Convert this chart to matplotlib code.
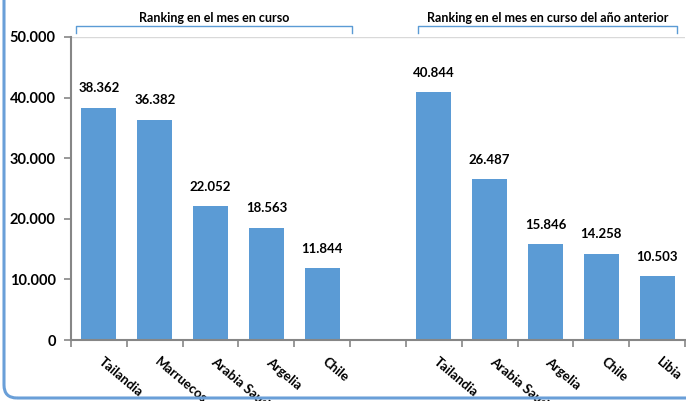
import matplotlib
matplotlib.use('Agg')
import matplotlib.pyplot as plt
from matplotlib.patches import FancyBboxPatch

plt.rcParams['font.family'] = ['Lato', 'DejaVu Sans']
plt.rcParams['font.weight'] = 'bold'

current_countries = ['Tailandia', 'Marruecos', 'Arabia Saudí', 'Argelia', 'Chile']
current_values = [38362, 36382, 22052, 18563, 11844]
previous_countries = ['Tailandia', 'Arabia Saudí', 'Argelia', 'Chile', 'Libia']
previous_values = [40844, 26487, 15846, 14258, 10503]
titles = ['Ranking en el mes en curso', 'Ranking en el mes en curso del año anterior']
yticks = [0, 10000, 20000, 30000, 40000, 50000]

bar_color = '#5B9BD5'
axis_gray = '#868686'


def fmt(v):
    return f'{v:,}'.replace(',', '.')


fig = plt.figure(figsize=(6.86, 4.01), dpi=100)
ax = fig.add_axes([71 / 686, 1 - 340 / 401, 614 / 686, 303 / 401])

# 11 slots: 5 bars, one empty slot, 5 bars
x1 = list(range(len(current_values)))
x2 = [i + len(current_values) + 1 for i in range(len(previous_values))]
ax.bar(x1, current_values, width=0.63, color=bar_color, zorder=2)
ax.bar(x2, previous_values, width=0.63, color=bar_color, zorder=2)

for x, v in zip(x1 + x2, current_values + previous_values):
    ax.text(x, v + 2200, fmt(v), ha='center', va='bottom', fontsize=9.5,
            fontweight='bold')

ax.set_xlim(-0.5, 10.5)
ax.set_ylim(0, 50000)
ax.set_yticks(yticks)
ax.set_yticklabels([fmt(v) for v in yticks], fontsize=10.5, fontweight='bold')
ax.set_xticks([i - 0.5 for i in range(12)])
ax.set_xticklabels([])
ax.tick_params(axis='both', direction='out', color=axis_gray, width=1.2, length=5)
ax.tick_params(axis='y', pad=6)

# rotated category labels (the reference lets the long ones run off the bottom)
for x, name in zip(x1 + x2, current_countries + previous_countries):
    ax.text(x + 0.1, -2600, name, rotation=-40, rotation_mode='anchor',
            ha='left', va='top', fontsize=9.5, fontweight='bold')

ax.axhline(50000, color='#D9D9D9', lw=1, zorder=1)
ax.spines['top'].set_visible(False)
ax.spines['right'].set_visible(False)
ax.spines['left'].set_color(axis_gray)
ax.spines['bottom'].set_color(axis_gray)
ax.spines['left'].set_linewidth(1.5)
ax.spines['bottom'].set_linewidth(1.5)

# group brackets with titles
bracket_color = '#5B9BD5'
for (a, b), title in zip([(-0.41, 4.54), (5.72, 10.36)], titles):
    tr = ax.get_xaxis_transform()
    ax.plot([a, a, b, b], [1.013, 1.036, 1.036, 1.013], color=bracket_color,
            lw=1, transform=tr, clip_on=False)
    ax.text((a + b) / 2, 1.044, title, ha='center', va='bottom', fontsize=9,
            fontweight='bold', transform=tr)

# rounded outer frame, visible on left and bottom only
frame = FancyBboxPatch((0.04, 0.03), 8, 6,
                       boxstyle='round,pad=0,rounding_size=0.13',
                       transform=fig.dpi_scale_trans, fill=False,
                       edgecolor='#6A9FD8', lw=2.2)
fig.patches.append(frame)

fig.savefig('out.png', dpi=100)
